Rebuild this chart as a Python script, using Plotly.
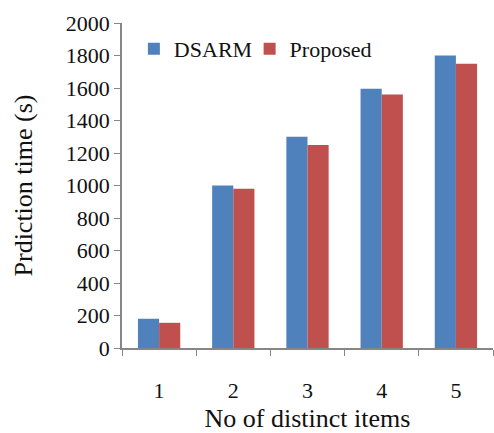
import plotly.graph_objects as go

# Number of distinct items on the x axis
categories = ["1", "2", "3", "4", "5"]

# Prediction time in seconds for each method
dsarm = [180, 1000, 1300, 1595, 1800]
proposed = [155, 980, 1250, 1560, 1750]

y_ticks = list(range(0, 2001, 200))

FONT = "Liberation Serif"
AXIS_GRAY = "#868686"

fig = go.Figure()
fig.add_trace(go.Bar(name="DSARM", x=categories, y=dsarm, legend="legend",
                     marker=dict(color="#4F81BD", line=dict(width=0))))
fig.add_trace(go.Bar(name="Proposed", x=categories, y=proposed, legend="legend2",
                     marker=dict(color="#C0504D", line=dict(width=0))))

legend_style = dict(orientation="h", y=0.985, xanchor="left", yanchor="top",
                    bgcolor="rgba(0,0,0,0)", font=dict(family=FONT, size=22),
                    itemwidth=30)

fig.update_layout(
    width=494, height=433,
    margin=dict(l=122, r=1, t=23, b=85),
    paper_bgcolor="white", plot_bgcolor="white",
    barmode="group", bargap=0.43, bargroupgap=0,
    font=dict(family=FONT, size=22, color="#111111"),
    showlegend=True,
    legend=dict(x=0.032, **legend_style),
    legend2=dict(x=0.344, **legend_style),
    xaxis=dict(
        type="category", tickson="boundaries", ticks="outside", ticklen=6,
        tickcolor=AXIS_GRAY, showline=True, linecolor=AXIS_GRAY, linewidth=1.5,
        showgrid=False, ticklabelstandoff=22, automargin=False,
        title=dict(text="No of distinct items", standoff=24),
    ),
    yaxis=dict(
        range=[0, 2000], tickvals=y_ticks, ticks="outside", ticklen=6,
        tickcolor=AXIS_GRAY, showline=True, linecolor=AXIS_GRAY, linewidth=1.5,
        showgrid=False, zeroline=False, automargin=False,
        title=dict(text="Prdiction time (s)", standoff=26),
    ),
)

fig.write_html("out.html")
